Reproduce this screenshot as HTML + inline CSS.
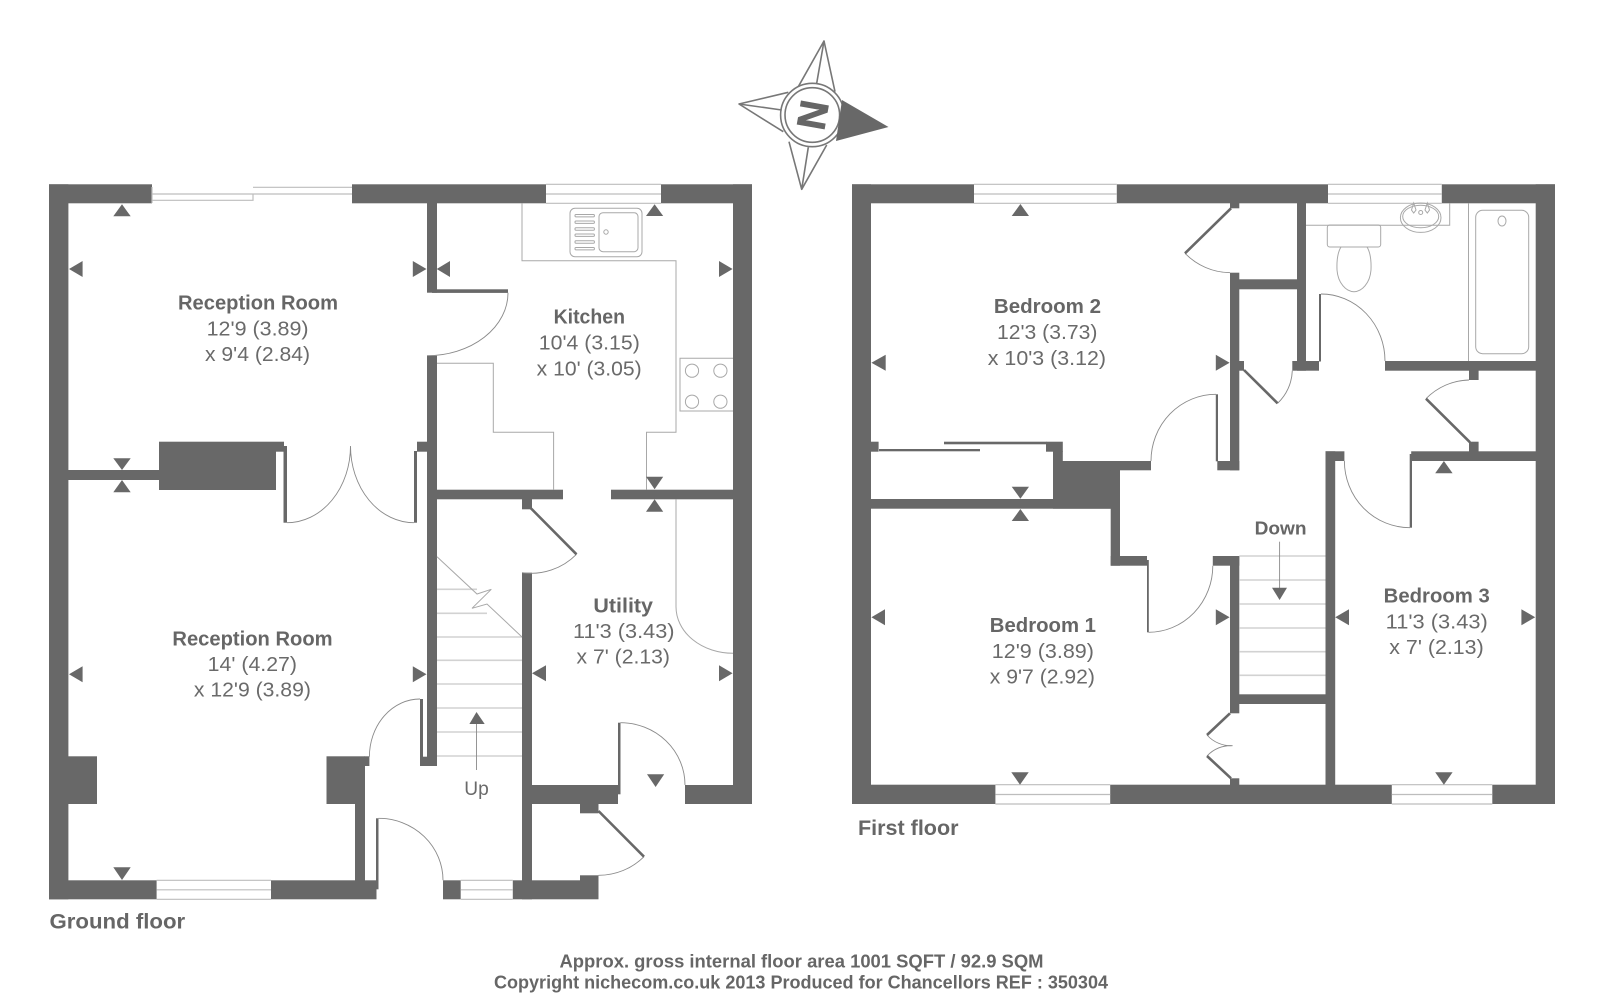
<!DOCTYPE html>
<html><head><meta charset="utf-8"><title>Floor plan</title>
<style>
html,body{margin:0;padding:0;background:#fff;width:1600px;height:1005px;overflow:hidden}
svg{display:block}
text{font-family:"Liberation Sans",sans-serif;fill:#6a6a6a;font-size:20px}
.b{font-weight:bold;fill:#666}
.w rect,.w polygon{fill:#686868}
.l{fill:none;stroke:#bdbdbd;stroke-width:1.2}
.t{fill:none;stroke:#d2d2d2;stroke-width:1.6}
.a{fill:none;stroke:#8a8a8a;stroke-width:.9}
.k{fill:none;stroke:#686868;stroke-width:2.6}
.f{fill:none;stroke:#a8a8a8;stroke-width:1}
.c{fill:none;stroke:#777;stroke-width:1.6}
.tr polygon{fill:#686868}
</style></head><body>
<svg width="1600" height="1005" viewBox="0 0 1600 1005" xmlns="http://www.w3.org/2000/svg">
<!-- Compass -->
<g class="c" stroke-linejoin="round">
<polyline points="798.3,86.7 824,41 835,91.7"/><line x1="824" y1="41" x2="816.7" y2="83.3"/>
<polyline points="788.3,92.3 739,104 783.3,131.7"/><line x1="739" y1="104" x2="781.7" y2="110"/>
<polyline points="789,141.7 801.7,189.3 826.7,145"/><line x1="801.7" y1="189.3" x2="808.3" y2="147.3"/>
<circle cx="812.3" cy="115" r="31.7"/><circle cx="812.3" cy="115" r="27.3"/>
</g>
<polygon points="842,100 888.5,127 836,141" fill="#686868"/>
<text class="b" transform="translate(813.5,115) rotate(100)" x="-14.4" y="14.4" style="font-size:40px;stroke:#666;stroke-width:.8">N</text>

<!-- GROUND FLOOR walls -->
<g class="w">
<rect x="49" y="184.3" width="103" height="19"/>
<rect x="352" y="184.3" width="194" height="19"/>
<rect x="661" y="184.3" width="91" height="19"/>
<rect x="49" y="184.3" width="19.4" height="715"/>
<rect x="733" y="184.3" width="19" height="619.7"/>
<rect x="427" y="203" width="10" height="89.7"/>
<rect x="432" y="289.3" width="76" height="3.6"/>
<rect x="427" y="355.7" width="10" height="410.3"/>
<rect x="420" y="756.7" width="17" height="9.3"/>
<rect x="420" y="699" width="3" height="58"/>
<rect x="417" y="441.7" width="11" height="10"/>
<rect x="414" y="451" width="3" height="71.7"/>
<rect x="159" y="441.7" width="125" height="10"/>
<rect x="159" y="451" width="117" height="39"/>
<rect x="283.5" y="446" width="3.5" height="76.7"/>
<rect x="68" y="470" width="91.5" height="10"/>
<rect x="437" y="489.7" width="126" height="9.6"/>
<rect x="611" y="489.7" width="122" height="9.6"/>
<rect x="522" y="499" width="10" height="10.3"/>
<rect x="522" y="572.7" width="10" height="326.6"/>
<rect x="532" y="785" width="86" height="19"/>
<rect x="618" y="722.7" width="2.5" height="71.6"/>
<rect x="685" y="785" width="67" height="19"/>
<rect x="580" y="803.5" width="18.5" height="9.8"/>
<rect x="68" y="756.3" width="29" height="47.7"/>
<rect x="326.5" y="756.3" width="38.5" height="47.7"/>
<rect x="364.5" y="756.3" width="4.9" height="9.7"/>
<rect x="355" y="803.5" width="10" height="77"/>
<rect x="49" y="880.3" width="107.6" height="19"/>
<rect x="271" y="880.3" width="105.5" height="19"/>
<rect x="376" y="818.3" width="2.5" height="71"/>
<rect x="443" y="880.3" width="17.7" height="19"/>
<rect x="512.8" y="880.3" width="85.7" height="19"/>
<rect x="580" y="875.3" width="18.5" height="5.5"/>
</g>
<!-- ground windows / lines -->
<path class="l" d="M152 194H253M152 200.3H253V194M253 187.3H352M253 194H352M152 187V203M546 184.3H661M546 194H661M546 203.3H661M156.6 880.3H271M156.6 889.8H271M156.6 899.3H271M460.7 880.3H512.8M460.7 889.8H512.8M460.7 899.3H512.8"/>
<path class="t" d="M437 589.3H477M437 613.3H487M437 637H522M437 660.3H522M437 684H522M437 708H522M437 732H522M437 756H522"/>
<path class="f" d="M437 556.7L477 594L491.3 589.3L472 608.3L487 604L522 637"/>
<path class="f" d="M522 203V260.7H676V432.3H646.5V489.7M437 363.3H493.3V432.3H553.6V489.7M676 499.3V606.7A57 46.6 0 0 0 733 653.3"/>
<path class="a" d="M508 292.7A81 63 0 0 1 427 355.7M287 522.7A63.5 76.7 0 0 0 350.5 446M414 522.7A63.5 76.7 0 0 1 350.5 446M420 699A50.6 57.7 0 0 0 369.4 756.7M378.5 818.3A64.5 62 0 0 1 443 880.3M576.5 554.3A64 64 0 0 1 522 572.7M620.5 722.7A64.5 62.3 0 0 1 685 785M644 856.7A64.5 64.5 0 0 1 598.5 875.3"/>
<path class="k" d="M530.6 508L576.5 554.3M598.5 811L644 856.7"/>
<!-- hob -->
<path class="f" d="M733 358.3H680V411H733"/>
<g class="f"><circle cx="692" cy="370.7" r="6.6"/><circle cx="720.4" cy="370.7" r="6.6"/><circle cx="692" cy="401.7" r="6.6"/><circle cx="720.4" cy="401.7" r="6.6"/></g>
<!-- sink -->
<g class="f">
<rect x="570" y="208.3" width="72" height="48.4" rx="5"/>
<rect x="599" y="212.7" width="39" height="39" rx="4"/>
<rect x="575" y="214.5" width="19.4" height="2.4" rx="1"/>
<rect x="575" y="221" width="19.4" height="2.4" rx="1"/>
<rect x="575" y="227.8" width="19.4" height="2.4" rx="1"/>
<rect x="575" y="234" width="19.4" height="2.4" rx="1"/>
<rect x="575" y="240.8" width="19.4" height="2.4" rx="1"/>
<rect x="575" y="247.5" width="19.4" height="2.4" rx="1"/>
<circle cx="606" cy="232" r="2.2"/>
</g>
<line class="a" x1="476.5" y1="723" x2="476.5" y2="770"/>
<polygon points="476.5,712 469.4,724 484.7,724" fill="#686868"/>

<!-- FIRST FLOOR walls -->
<g class="w">
<rect x="852" y="184.3" width="122" height="19"/>
<rect x="1116.8" y="184.3" width="211.2" height="19"/>
<rect x="1441.8" y="184.3" width="113.2" height="19"/>
<rect x="852" y="184.3" width="19" height="619.7"/>
<rect x="1535.7" y="184.3" width="19.3" height="619.7"/>
<rect x="852" y="784.7" width="143.4" height="19.3"/>
<rect x="1110.2" y="784.7" width="281.6" height="19.3"/>
<rect x="1492.3" y="784.7" width="62.7" height="19.3"/>
<rect x="1230" y="272.7" width="9.3" height="197.6"/>
<rect x="1217.3" y="461" width="22" height="9.3"/>
<rect x="1215.8" y="394.3" width="2.2" height="67"/>
<rect x="1230" y="203" width="9.3" height="5.3"/>
<rect x="1239" y="279.3" width="58.5" height="10"/>
<rect x="1297" y="203" width="9" height="167.7"/>
<rect x="1292.3" y="361" width="26.7" height="9.7"/>
<rect x="1319" y="294" width="2" height="67.5"/>
<rect x="1385" y="361" width="151" height="9.7"/>
<rect x="1469" y="370.5" width="9.6" height="9.5"/>
<rect x="1469" y="441.7" width="9.6" height="10"/>
<rect x="1239" y="361" width="5" height="9.7"/>
<rect x="1411.2" y="451.3" width="125" height="9.7"/>
<rect x="1409.7" y="454" width="2.3" height="73.7"/>
<rect x="1325.5" y="451.3" width="18.9" height="9.7"/>
<rect x="1325.5" y="451.3" width="9.7" height="333.7"/>
<rect x="871" y="499" width="239.7" height="9.7"/>
<rect x="1053" y="461" width="67" height="47.7"/>
<rect x="1062.8" y="461" width="88.2" height="9.3"/>
<rect x="1046" y="441.7" width="16.8" height="10"/>
<rect x="1053" y="451" width="9.8" height="10.5"/>
<rect x="871" y="441.7" width="7.6" height="10"/>
<rect x="879" y="449" width="101" height="2.3"/>
<rect x="944" y="441.7" width="102.5" height="2.6"/>
<rect x="1110.7" y="461" width="9.3" height="104.7"/>
<rect x="1110.7" y="556" width="36.3" height="9.7"/>
<rect x="1147" y="560" width="1.8" height="72.3"/>
<rect x="1212.8" y="556" width="26.5" height="9.7"/>
<rect x="1230" y="556" width="9.3" height="157.3"/>
<rect x="1239" y="694.3" width="86.8" height="9.7"/>
<rect x="1230" y="778.3" width="9.3" height="6.7"/>
</g>
<path class="l" d="M974 184.3H1116.8M974 194H1116.8M974 203.3H1116.8M1328 184.3H1441.8M1328 194H1441.8M1328 203.3H1441.8M995.4 784.7H1110.2M995.4 794.5H1110.2M995.4 804H1110.2M1391.8 784.7H1492.3M1391.8 794.5H1492.3M1391.8 804H1492.3"/>
<path class="t" d="M1239.3 556H1325.5M1239.3 580H1325.5M1239.3 604H1325.5M1239.3 628H1325.5M1239.3 651.7H1325.5M1239.3 675.3H1325.5"/>
<path class="a" d="M1216 394.3A65 66.7 0 0 0 1151 461M1185 253.3A64 64 0 0 0 1230 272.7M1321 294A64 67 0 0 1 1385 361M1426 398.7A62 62 0 0 1 1469 380M1277.6 403.3A47 47 0 0 0 1292.3 370.7M1344.4 461A65.6 66.7 0 0 0 1410 527.7M1148.5 632.3A64.3 66.6 0 0 0 1212.8 565.7M1207 735A32 32 0 0 0 1232.6 745.7M1232.6 745.7A32 32 0 0 0 1207 756"/>
<path class="k" d="M1231 208.3L1185 253.3M1470 442.3L1426 398.7M1244 370L1277.6 403.3M1230 713.3L1207 735M1207 756L1231 778.3"/>
<!-- bathroom -->
<g class="f">
<path d="M1306 225.3H1449.7V203.3M1468.5 203.3V361"/>
<ellipse cx="1420.7" cy="217.7" rx="20.3" ry="14.7"/>
<ellipse cx="1420.7" cy="216.5" rx="18" ry="11.3"/>
<circle cx="1420.7" cy="212.5" r="2"/>
<path d="M1413.7 203L1411.5 210L1413.7 213L1416 210ZM1427.3 203L1425 210L1427.3 213L1429.5 210Z"/>
<rect x="1327.3" y="225" width="53.4" height="22" rx="2.5"/>
<path d="M1341 247C1336 255 1337 268 1337 270C1338 283 1346 291.7 1354 291.7S1370 283 1371 270C1371 268 1372 255 1367 247"/>
<rect x="1475.7" y="210.3" width="53" height="143.4" rx="7"/>
<ellipse cx="1502" cy="221" rx="4" ry="5"/>
</g>
<line class="a" x1="1279.6" y1="541.7" x2="1279.6" y2="588"/>
<polygon points="1272,587.7 1287,587.7 1279.6,600" fill="#686868"/>

<!-- room markers -->
<g class="tr">
<polygon points="122,204.3 113.3,216.3 130.7,216.3"/>
<polygon points="69,269 82.6,261 82.6,277"/>
<polygon points="426.5,269 412.8,261 412.8,277"/>
<polygon points="436.7,269 450,261 450,277"/>
<polygon points="732.6,269 719,261 719,277"/>
<polygon points="654.6,204.3 646,216 663.2,216"/>
<polygon points="122,470 113.3,458.3 130.7,458.3"/>
<polygon points="122,480 113.3,492.3 130.7,492.3"/>
<polygon points="654.6,489.3 646,476.7 663.2,476.7"/>
<polygon points="654.6,499.3 646,511.7 663.2,511.7"/>
<polygon points="69,674.3 82.6,666.3 82.6,682.3"/>
<polygon points="426.5,674.3 412.8,666.3 412.8,682.3"/>
<polygon points="532,673.3 546,665.3 546,681.3"/>
<polygon points="732.6,673.3 719,665.3 719,681.3"/>
<polygon points="122,880 113.3,867.3 130.7,867.3"/>
<polygon points="655.6,787 647,774.3 664.2,774.3"/>
<polygon points="1020.4,204 1011.7,216 1029,216"/>
<polygon points="871.4,362.7 885.7,354.7 885.7,370.7"/>
<polygon points="1229.6,362.7 1215.8,354.7 1215.8,370.7"/>
<polygon points="1020.4,498.7 1011.7,486.7 1029,486.7"/>
<polygon points="1020.4,509 1011.7,521 1029,521"/>
<polygon points="871.4,617.3 885,609.3 885,625.3"/>
<polygon points="1229.6,617.3 1215.8,609.3 1215.8,625.3"/>
<polygon points="1020,784.7 1011.3,772.3 1028.7,772.3"/>
<polygon points="1443.9,461 1435.2,473.3 1452.6,473.3"/>
<polygon points="1335.2,617.3 1349,609.3 1349,625.3"/>
<polygon points="1535.2,617.3 1521.4,609.3 1521.4,625.3"/>
<polygon points="1443.9,784.7 1435.2,772.3 1452.6,772.3"/>
</g>

<!-- labels -->
<g>
<text class="b" x="178" y="309.5" textLength="160" lengthAdjust="spacingAndGlyphs">Reception Room</text>
<text x="206.6" y="335.5" textLength="102" lengthAdjust="spacingAndGlyphs">12'9 (3.89)</text>
<text x="205" y="361" textLength="105" lengthAdjust="spacingAndGlyphs">x 9'4 (2.84)</text>
<text class="b" x="553.6" y="323.5" textLength="71.4" lengthAdjust="spacingAndGlyphs">Kitchen</text>
<text x="538.8" y="349.5" textLength="101" lengthAdjust="spacingAndGlyphs">10'4 (3.15)</text>
<text x="536.7" y="375.5" textLength="105" lengthAdjust="spacingAndGlyphs">x 10' (3.05)</text>
<text class="b" x="172.4" y="645.5" textLength="160.2" lengthAdjust="spacingAndGlyphs">Reception Room</text>
<text x="207.7" y="671" textLength="89.3" lengthAdjust="spacingAndGlyphs">14' (4.27)</text>
<text x="193.9" y="696.5" textLength="117" lengthAdjust="spacingAndGlyphs">x 12'9 (3.89)</text>
<text class="b" x="593.4" y="612.5" textLength="59.6" lengthAdjust="spacingAndGlyphs">Utility</text>
<text x="573" y="638" textLength="101.5" lengthAdjust="spacingAndGlyphs">11'3 (3.43)</text>
<text x="576.5" y="663.5" textLength="93.5" lengthAdjust="spacingAndGlyphs">x 7' (2.13)</text>
<text x="464.3" y="795" textLength="24.5" lengthAdjust="spacingAndGlyphs" style="font-size:19px">Up</text>
<text class="b" x="49.5" y="928.7" textLength="135.7" lengthAdjust="spacingAndGlyphs" style="font-size:21px">Ground floor</text>
<text class="b" x="993.9" y="313" textLength="107.1" lengthAdjust="spacingAndGlyphs">Bedroom 2</text>
<text x="997" y="339" textLength="100.4" lengthAdjust="spacingAndGlyphs">12'3 (3.73)</text>
<text x="987.8" y="365" textLength="118.2" lengthAdjust="spacingAndGlyphs">x 10'3 (3.12)</text>
<text class="b" x="989.8" y="632" textLength="106.2" lengthAdjust="spacingAndGlyphs">Bedroom 1</text>
<text x="991.8" y="658" textLength="102.1" lengthAdjust="spacingAndGlyphs">12'9 (3.89)</text>
<text x="989.8" y="683.5" textLength="105.2" lengthAdjust="spacingAndGlyphs">x 9'7 (2.92)</text>
<text class="b" x="1383.7" y="602.7" textLength="106.1" lengthAdjust="spacingAndGlyphs">Bedroom 3</text>
<text x="1385.7" y="628.5" textLength="102.1" lengthAdjust="spacingAndGlyphs">11'3 (3.43)</text>
<text x="1389.3" y="654" textLength="94.4" lengthAdjust="spacingAndGlyphs">x 7' (2.13)</text>
<text class="b" x="1254.6" y="534.5" textLength="52" lengthAdjust="spacingAndGlyphs" style="font-size:18px;font-weight:bold">Down</text>
<text class="b" x="858" y="835" textLength="100.5" lengthAdjust="spacingAndGlyphs" style="font-size:21px">First floor</text>
<text class="b" x="559.5" y="967.5" textLength="484" lengthAdjust="spacingAndGlyphs" style="font-size:18px">Approx. gross internal floor area 1001 SQFT / 92.9 SQM</text>
<text class="b" x="494" y="988.5" textLength="614" lengthAdjust="spacingAndGlyphs" style="font-size:18px">Copyright nichecom.co.uk 2013 Produced for Chancellors REF : 350304</text>
</g>
</svg>
</body></html>
